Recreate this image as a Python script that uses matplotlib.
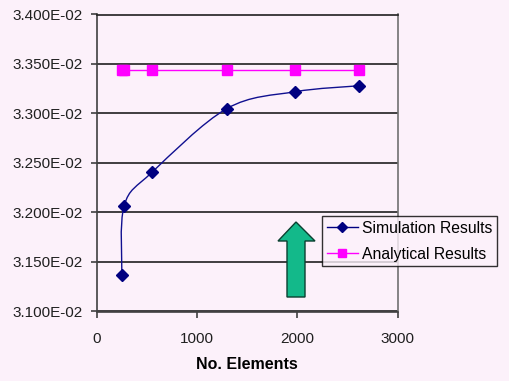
import matplotlib
matplotlib.use('Agg')
import matplotlib.pyplot as plt
from matplotlib.path import Path
from matplotlib.patches import PathPatch, Polygon
from matplotlib.lines import Line2D
from matplotlib.ticker import FixedLocator, FuncFormatter

plt.rcParams['font.family'] = ['Liberation Sans', 'DejaVu Sans']

elements = [248, 271, 553, 1296, 1976, 2612]
simulation = [0.03137, 0.03207, 0.03241, 0.03305, 0.03322, 0.03328]
analytical = [0.03344, 0.03344, 0.03344, 0.03344, 0.03344, 0.03344]
y_ticks = [0.0310, 0.0315, 0.0320, 0.0325, 0.0330, 0.0335, 0.0340]
x_ticks = [0, 1000, 2000, 3000]

bg = '#fcf1fa'
navy = '#000080'
magenta = '#ff00ff'


def smooth_path(xs, ys):
    # excel style smoothed line: bezier segments with catmull-rom controls
    pts = list(zip(xs, ys))
    n = len(pts)
    verts = [pts[0]]
    codes = [Path.MOVETO]
    for i in range(n - 1):
        p0 = pts[max(i - 1, 0)]
        p1 = pts[i]
        p2 = pts[i + 1]
        p3 = pts[min(i + 2, n - 1)]
        c1 = (p1[0] + (p2[0] - p0[0]) / 6, p1[1] + (p2[1] - p0[1]) / 6)
        c2 = (p2[0] - (p3[0] - p1[0]) / 6, p2[1] - (p3[1] - p1[1]) / 6)
        verts += [c1, c2, p2]
        codes += [Path.CURVE4] * 3
    return Path(verts, codes)


fig = plt.figure(figsize=(5.09, 3.81), dpi=100, facecolor=bg)
ax = fig.add_axes([97 / 509, 1 - 311.5 / 381, 300.7 / 509, 297 / 381])
ax.set_facecolor(bg)

ax.set_xlim(0, 3000)
ax.set_ylim(0.0310, 0.0340)

ax.yaxis.set_major_locator(FixedLocator(y_ticks))
ax.xaxis.set_major_locator(FixedLocator(x_ticks))
ax.yaxis.set_major_formatter(FuncFormatter(lambda v, p: '{:.3E}'.format(v)))
ax.grid(axis='y', color='#202020', linewidth=1.2)
ax.set_axisbelow(True)

for side in ['left', 'bottom']:
    ax.spines[side].set_color('#404040')
    ax.spines[side].set_linewidth(1.2)
ax.spines['right'].set_color('#707070')
ax.spines['right'].set_linewidth(1.2)
ax.spines['top'].set_color('#202020')
ax.spines['top'].set_linewidth(1.2)

ax.tick_params(axis='both', direction='out', length=4, width=1.2, color='#404040',
               labelsize=11, labelcolor='#202020')
ax.tick_params(axis='x', pad=11)
ax.tick_params(axis='y', pad=6)

ax.add_patch(PathPatch(smooth_path(elements, simulation), facecolor='none',
                       edgecolor='#101090', linewidth=1.0, zorder=3))
ax.plot(elements, simulation, linestyle='none', marker='D', markersize=6,
        color=navy, zorder=4)
ax.plot(elements, analytical, color=magenta, linewidth=1.0, marker='s',
        markersize=7, zorder=4)

ax.set_xlabel('No. Elements', fontsize=11.5, fontweight='bold', labelpad=8)

handles = [Line2D([], [], color=navy, marker='D', markersize=5, linewidth=1.0),
           Line2D([], [], color=magenta, marker='s', markersize=6, linewidth=1.0)]
leg = fig.legend(handles, ['Simulation Results', 'Analytical Results'],
                 loc='upper left', bbox_to_anchor=(322 / 509, 1 - 216 / 381),
                 frameon=True, fancybox=False, fontsize=11.3, handlelength=2.0,
                 handletextpad=0.25, borderpad=0.3, labelspacing=0.7,
                 borderaxespad=0)
leg.get_frame().set_edgecolor('#000000')
leg.get_frame().set_facecolor(bg)
leg.get_frame().set_linewidth(1.0)

# green up arrow in figure pixels
arrow = [(287, 297), (305, 297), (305, 241), (315, 241), (296, 222),
         (278, 241), (287, 241)]
arrow = [(x / 509, 1 - y / 381) for x, y in arrow]
fig.patches.append(Polygon(arrow, closed=True, facecolor='#13b98a',
                           edgecolor='#0a4030', linewidth=1.0,
                           transform=fig.transFigure, zorder=5))

fig.savefig('out.png', dpi=100, facecolor=bg)
